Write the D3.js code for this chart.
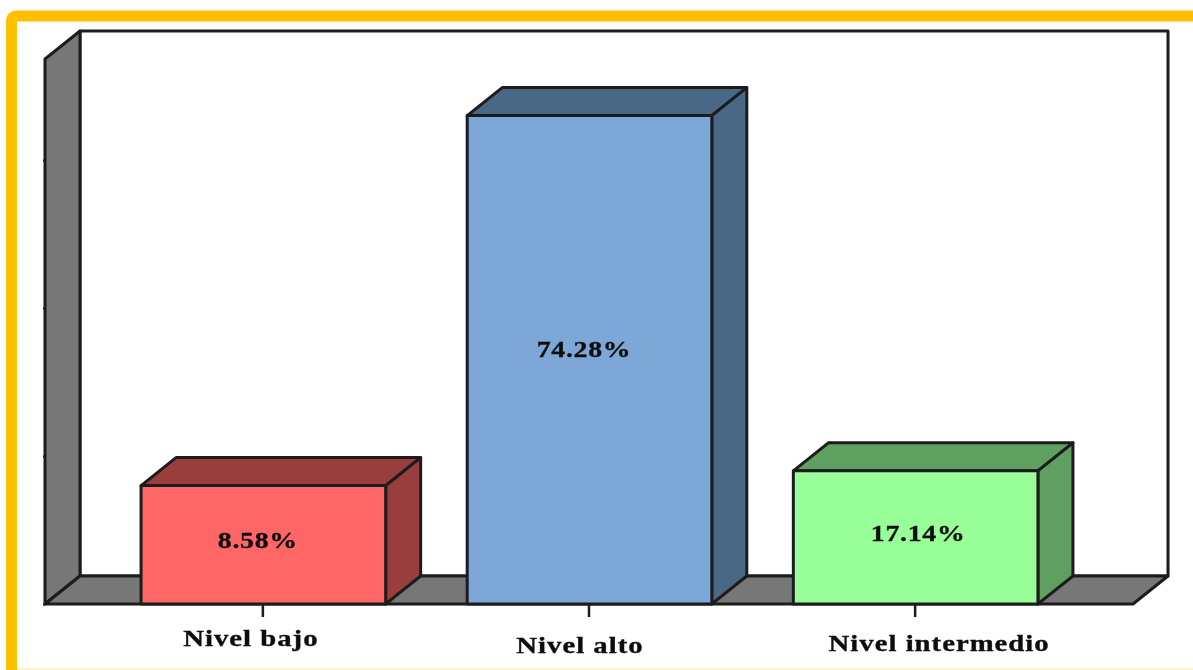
<!DOCTYPE html>
<html>
<head>
<meta charset="utf-8">
<script src="https://cdn.jsdelivr.net/npm/d3@7"></script>
<style>
    html, body { margin: 0; padding: 0; background: #fff; overflow: hidden; }
    text { font-family: "Liberation Serif", serif; font-weight: bold; fill: #111; stroke: #111; stroke-width: 0.35; }
</style>
</head>
<body>
<svg id="chart" width="1193" height="670"></svg>
<script>
var categories = ["Nivel bajo", "Nivel alto", "Nivel intermedio"];
// printed labels do not match the drawn heights in the original, so both are kept
var valueLabels = ["8.58%", "74.28%", "17.14%"];
var barValues = [16, 66, 18];   // read against the wall ticks
var yTicks = [0, 20, 40, 60];

var frontColors = ["#ff6666", "#7ba7d6", "#99ff99"];
var sideColors = ["#993d3d", "#4a6785", "#5f9f5f"];
var wallColor = "#777777";
var lineColor = "#1c1c1c";

var svg = d3.select("#chart");

var left = 45, right = 1133, floorY = 604;
var depthX = 35, depthY = 28;

var x = d3.scaleBand().domain(categories)
    .range([left, right])
    .paddingInner(0.25)
    .paddingOuter(0.293);

var y = d3.scaleLinear().domain([0, 60]).range([floorY, 160]);
var wallTop = 59;

var defs = svg.append("defs");
defs.append("filter").attr("id", "soft")
    .append("feGaussianBlur").attr("stdDeviation", 0.6);

// yellow frame, open on the right
svg.append("path")
    .attr("d", "M1193,16H17Q11.5,16 11.5,21.5V670")
    .attr("fill", "none")
    .attr("stroke", "#ffc000")
    .attr("stroke-width", 11);
svg.append("rect")
    .attr("x", 17).attr("y", 668).attr("width", 1176).attr("height", 2)
    .attr("fill", "#fff2cc");

var g = svg.append("g").attr("filter", "url(#soft)");

function poly(pts, fill) {
    return g.append("path")
        .attr("d", d3.line()(pts) + "Z")
        .attr("fill", fill)
        .attr("stroke", lineColor)
        .attr("stroke-width", 3)
        .attr("stroke-linejoin", "round");
}

// back wall, side wall, floor
poly([[left + depthX, wallTop - depthY], [right + depthX, wallTop - depthY], [right + depthX, floorY - depthY], [left + depthX, floorY - depthY]], "#fff");
poly([[left, wallTop], [left + depthX, wallTop - depthY], [left + depthX, floorY - depthY], [left, floorY]], wallColor);
poly([[left, floorY], [left + depthX, floorY - depthY], [right + depthX, floorY - depthY], [right, floorY]], wallColor);

// axes, tick labels were lost in the original
g.append("g")
    .attr("transform", "translate(" + left + ",0)")
    .call(d3.axisLeft(y).tickValues(yTicks).tickSize(2).tickFormat(""))
    .call(function (a) {
        a.select(".domain").remove();
        a.selectAll("line").attr("stroke", lineColor).attr("stroke-width", 2);
    });

g.append("g")
    .attr("transform", "translate(0," + floorY + ")")
    .call(d3.axisBottom(x).tickSize(13).tickFormat(""))
    .call(function (a) {
        a.select(".domain").remove();
        a.selectAll("line").attr("stroke", lineColor).attr("stroke-width", 2.5);
    });

// bars: top, side, then front
categories.forEach(function (c, i) {
    var x0 = x(c) + 0.5, x1 = x0 + x.bandwidth();
    var top = y(barValues[i]);
    poly([[x0, top], [x0 + depthX, top - depthY], [x1 + depthX, top - depthY], [x1, top]], sideColors[i]);
    poly([[x1, top], [x1 + depthX, top - depthY], [x1 + depthX, floorY - depthY], [x1, floorY]], sideColors[i]);
    poly([[x0, top], [x1, top], [x1, floorY], [x0, floorY]], frontColors[i]);
});

// labels sit a bit off centre in the original, and the picture was stretched sideways
var valueNudge = [[-5, 3], [-5, -3], [3, 4]];
var nameNudge = [[-12, 42], [-9, 49], [24, 47]];

g.selectAll(".value")
    .data(categories)
    .enter().append("text")
    .attr("class", "value")
    .attr("text-anchor", "middle")
    .attr("font-size", 24)
    .attr("letter-spacing", 0.6)
    .attr("transform", function (d, i) {
        var px = x(d) + x.bandwidth() / 2 + valueNudge[i][0];
        var py = (y(barValues[i]) + floorY) / 2 + valueNudge[i][1];
        return "translate(" + px + "," + py + ") scale(1.16,1)";
    })
    .text(function (d, i) { return valueLabels[i]; });

g.selectAll(".name")
    .data(categories)
    .enter().append("text")
    .attr("class", "name")
    .attr("text-anchor", "middle")
    .attr("font-size", 23)
    .attr("letter-spacing", 0.8)
    .attr("transform", function (d, i) {
        var px = x(d) + x.bandwidth() / 2 + nameNudge[i][0];
        var py = floorY + nameNudge[i][1];
        return "translate(" + px + "," + py + ") scale(1.25,1)";
    })
    .text(function (d) { return d; });
</script>
</body>
</html>
